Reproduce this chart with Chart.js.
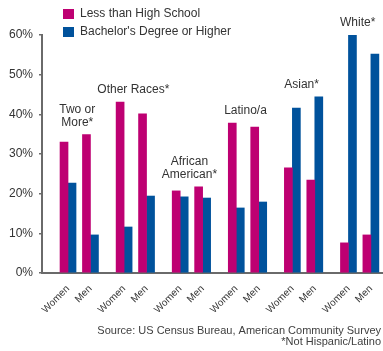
<!DOCTYPE html>
<html>
<head>
<meta charset="utf-8">
<script src="https://cdn.jsdelivr.net/npm/chart.js@4/dist/chart.umd.min.js"></script>
<style>
  html, body { margin: 0; padding: 0; background: #ffffff; }
  #wrap { width: 383px; height: 351px; position: relative; }
</style>
</head>
<body>
<div id="wrap"><canvas id="c" width="383" height="351"></canvas></div>
<script>
// ---- data ----
const groupLabels = [['Two or', 'More*'], ['Other Races*'], ['African', 'American*'], ['Latino/a'], ['Asian*'], ['White*']];
const sexLabels = ['Women', 'Men'];
const seriesNames = ['Less than High School', "Bachelor's Degree or Higher"];
const lessThanHighSchool = [33.0, 34.9, 43.1, 40.1, 20.7, 21.7, 37.8, 36.8, 26.5, 23.4, 7.6, 9.6];
const bachelorsOrHigher = [22.7, 9.6, 11.6, 19.4, 19.2, 18.9, 16.4, 17.9, 41.6, 44.4, 60.0, 55.2];
const yTicks = [0, 10, 20, 30, 40, 50, 60];
const sourceLines = ['Source: US Census Bureau, American Community Survey', '*Not Hispanic/Latino'];

// ---- layout helpers ----
const GROUP_STEP = 2.5;
const catX = i => Math.floor(i / 2) * GROUP_STEP + (i % 2);
const catLabel = i => sexLabels[i % 2];
const nCats = lessThanHighSchool.length;
const xPositions = Array.from({length: nCats}, (_, i) => catX(i));

const MAGENTA = '#be0072';
const BLUE = '#00529c';
const FONT = '"Liberation Sans", Arial, sans-serif';
const TEXT = '#333333';
const AXIS = '#6a6a6a';

const toPoints = arr => arr.map((v, i) => ({x: catX(i), y: v}));

const overlayPlugin = {
  id: 'overlay',
  afterDraw(chart) {
    const ctx = chart.ctx;
    const xs = chart.scales.x, ys = chart.scales.y;
    ctx.save();
    // legend
    const colors = [MAGENTA, BLUE];
    ctx.font = '12px ' + FONT;
    ctx.textBaseline = 'middle';
    ctx.textAlign = 'left';
    seriesNames.forEach((name, k) => {
      const cy = 14 + k * 18;
      ctx.fillStyle = colors[k];
      ctx.fillRect(63, cy - 5, 11, 10);
      ctx.fillStyle = TEXT;
      ctx.fillText(name, 80, cy);
    });
    // group labels
    ctx.textAlign = 'center';
    groupLabels.forEach((lines, g) => {
      const idx = [g * 2, g * 2 + 1];
      const top = Math.max(...idx.map(i => Math.max(lessThanHighSchool[i], bachelorsOrHigher[i])));
      const cx = xs.getPixelForValue(g * GROUP_STEP + 0.5) - 2;
      const yb = ys.getPixelForValue(top) - 12;
      lines.forEach((ln, j) => {
        ctx.fillText(ln, cx, yb - (lines.length - 1 - j) * 13);
      });
    });
    // source
    ctx.font = '11px ' + FONT;
    ctx.textAlign = 'right';
    ctx.fillStyle = '#404040';
    sourceLines.forEach((ln, j) => ctx.fillText(ln, 381, 331 + j * 10.5));
    ctx.restore();
  }
};

new Chart(document.getElementById('c'), {
  type: 'bar',
  data: {
    datasets: [
      { label: seriesNames[0], data: toPoints(lessThanHighSchool), backgroundColor: MAGENTA, barThickness: 8 },
      { label: seriesNames[1], data: toPoints(bachelorsOrHigher), backgroundColor: BLUE, barThickness: 8 }
    ]
  },
  options: {
    responsive: false,
    animation: false,
    layout: { padding: { top: 35, left: 0, right: 0, bottom: 0 } },
    plugins: { legend: { display: false }, tooltip: { enabled: false } },
    scales: {
      x: {
        type: 'linear',
        offset: false,
        bounds: 'data',
        min: -1.16,
        max: 14.04,
        afterBuildTicks: s => { s.ticks = xPositions.map(v => ({value: v})); },
        afterFit: s => { s.height = 78; s.paddingLeft = 0; s.paddingRight = 0; },
        grid: { display: false },
        border: { display: true, color: AXIS, width: 2 },
        ticks: {
          autoSkip: false,
          minRotation: 45,
          maxRotation: 45,
          padding: 2,
          color: TEXT,
          font: { family: FONT, size: 10 },
          callback: (v) => { const i = xPositions.indexOf(v); return i >= 0 ? catLabel(i) : ''; }
        }
      },
      y: {
        min: 0,
        max: 60,
        afterBuildTicks: s => { s.ticks = yTicks.map(v => ({value: v})); },
        afterFit: s => { s.width = 42; },
        grid: { drawOnChartArea: false, drawTicks: true, tickLength: 3, color: AXIS, lineWidth: 1.5 },
        border: { display: true, color: AXIS, width: 2 },
        ticks: {
          padding: 6,
          color: TEXT,
          font: { family: FONT, size: 12 },
          callback: v => v + '%'
        }
      }
    }
  },
  plugins: [overlayPlugin]
});
</script>
</body>
</html>
